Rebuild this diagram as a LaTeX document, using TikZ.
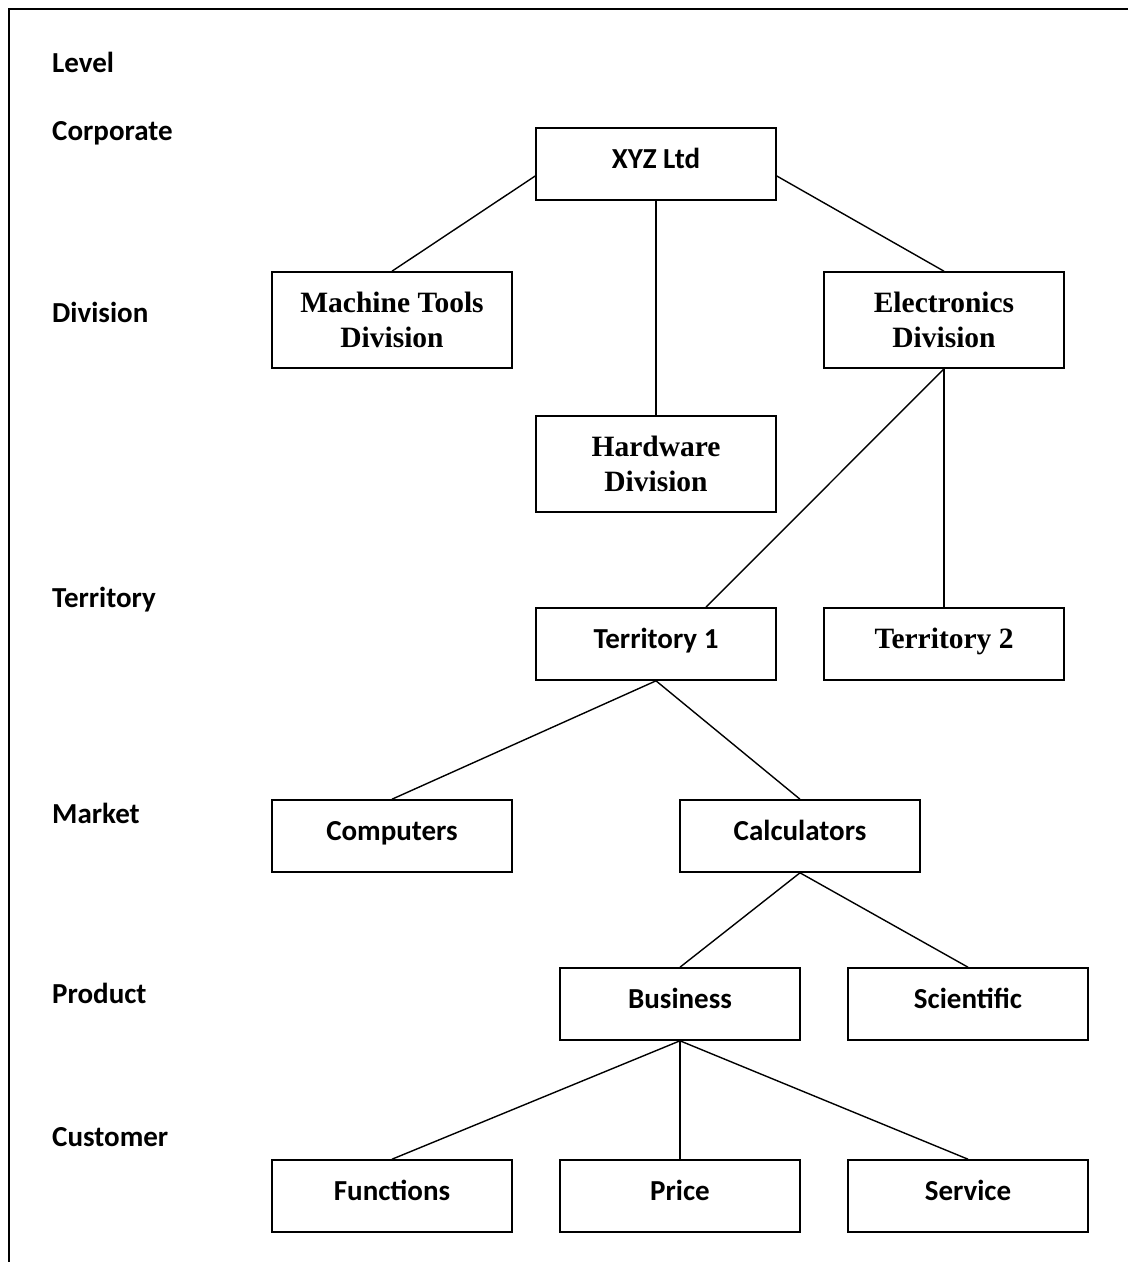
\documentclass[tikz,border=0pt]{standalone}
\usepackage{fontspec}
\setmainfont{Carlito}
\newfontfamily\tnr{Liberation Serif}
\begin{document}
\begin{tikzpicture}[x=1pt,y=-1pt,
  box/.style={draw, line width=1.6pt, minimum width=240pt, minimum height=72pt, inner sep=0pt, font=\fontsize{29}{34}\selectfont\bfseries, text height=20pt, text depth=12pt},
  tallbox/.style={draw, line width=1.6pt, minimum width=240pt, minimum height=96pt, inner sep=0pt, align=center},
  serif/.style={font=\fontsize{29.5}{35}\selectfont\tnr\bfseries},
  lvl/.style={anchor=west, font=\fontsize{29}{34}\selectfont\bfseries, inner sep=0pt},
  conn/.style={line width=1.4pt}]
\useasboundingbox (0,0) rectangle (1128,1262);
\coordinate (fA) at (9,1262);
\coordinate (fB) at (9,9);
\coordinate (fC) at (1128,9);
\draw[line width=2.6pt] (fA) -- (fB) -- (fC);
% levels
\node[lvl] (lLevel) at (52,62) {Level};
\node[lvl] (lCorp) at (52,133) {Corporate};
\node[lvl] (lDiv) at (52,312) {Division};
\node[lvl] (lTer) at (52,600) {Territory};
\node[lvl] (lMar) at (52,813) {Market};
\node[lvl] (lPro) at (52,993) {Product};
\node[lvl] (lCus) at (52,1137) {Customer};
% boxes
\node[box] (xyz) at (656,164) {XYZ Ltd};
\node[tallbox,serif] (mt) at (392,320) {Machine Tools\\Division};
\node[tallbox,serif] (el) at (944,320) {Electronics\\Division};
\node[tallbox,serif] (hw) at (656,464) {Hardware\\Division};
\node[box] (t1) at (656,644) {Territory 1};
\node[box,serif] (t2) at (944,644) {Territory 2};
\node[box] (comp) at (392,836) {Computers};
\node[box] (calc) at (800,836) {Calculators};
\node[box] (bus) at (680,1004) {Business};
\node[box] (sci) at (968,1004) {Scientific};
\node[box] (fun) at (392,1196) {Functions};
\node[box] (pri) at (680,1196) {Price};
\node[box] (ser) at (968,1196) {Service};
% connectors
\draw[conn] ([yshift=-12pt]xyz.west) -- (mt.north);
\draw[conn] ([yshift=-12pt]xyz.east) -- (el.north);
\draw[conn] (xyz.south) -- (hw.north);
\draw[conn] (el.south) -- ([xshift=50pt]t1.north);
\draw[conn] (el.south) -- (t2.north);
\draw[conn] (t1.south) -- (comp.north);
\draw[conn] (t1.south) -- (calc.north);
\draw[conn] (calc.south) -- (bus.north);
\draw[conn] (calc.south) -- (sci.north);
\draw[conn] (bus.south) -- (fun.north);
\draw[conn] (bus.south) -- (pri.north);
\draw[conn] (bus.south) -- (ser.north);
\end{tikzpicture}
\end{document}
